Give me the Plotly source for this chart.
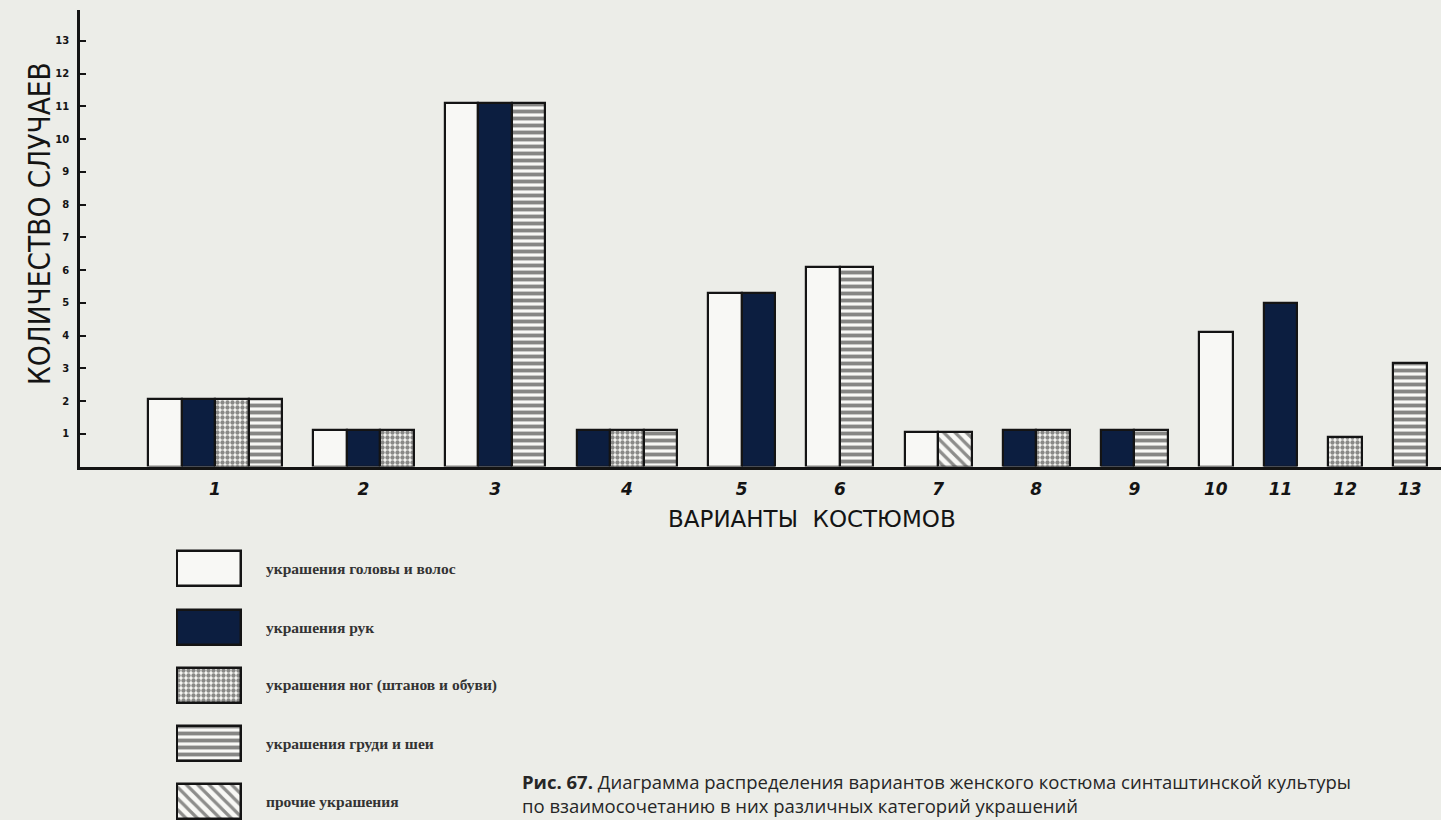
import plotly.graph_objects as go

# --- data -------------------------------------------------------------
variants = [str(i) for i in range(1, 14)]

categories = [
    "украшения головы и волос",
    "украшения рук",
    "украшения ног (штанов и обуви)",
    "украшения груди и шеи",
    "прочие украшения",
]

# number of cases per costume variant (None = category absent in variant)
head = [2.05, 1.1, 11.1, None, 5.3, 6.1, 1.05, None, None, 4.1, None, None, None]
hands = [2.05, 1.1, 11.1, 1.1, 5.3, None, None, 1.1, 1.1, None, 5.0, None, None]
legs = [2.05, 1.1, None, 1.1, None, None, None, 1.1, None, None, None, 0.9, None]
chest = [2.05, None, 11.1, 1.1, None, 6.1, None, None, 1.1, None, None, None, 3.15]
other = [None, None, None, None, None, None, 1.05, None, None, None, None, None, None]

y_ticks = list(range(1, 14))

caption = ("<b>Рис. 67.</b> Диаграмма распределения вариантов женского костюма синташтинской культуры"
           "<br>по взаимосочетанию в них различных категорий украшений")

# --- styles -----------------------------------------------------------
INK = "#141414"
NAVY = "#0c1e40"
PAPER = "#ecede8"
WHITE = "#f8f8f5"

styles = [
    dict(color=WHITE, pattern=dict(shape="")),
    dict(color=NAVY, pattern=dict(shape="")),
    dict(color=WHITE, pattern=dict(shape=".", fgcolor="#1a1a1a", bgcolor=WHITE,
                                   size=5, solidity=0.6, fillmode="overlay")),
    dict(color=WHITE, pattern=dict(shape="-", fgcolor=INK, bgcolor=WHITE,
                                   size=7, solidity=0.55, fillmode="overlay")),
    dict(color=WHITE, pattern=dict(shape="\\", fgcolor="#222222", bgcolor=WHITE,
                                   size=8, solidity=0.4, fillmode="overlay")),
]

W, H = 1441, 820
GAP = 0.93  # space between variant groups, in bar widths

# --- lay the bars out: present categories sit side by side in each group
series = [head, hands, legs, chest, other]
bar_x = [[] for _ in series]
bar_y = [[] for _ in series]
centers = []
cursor = 0.0
for g in range(len(variants)):
    start = cursor
    for k, s in enumerate(series):
        if s[g] is not None:
            bar_x[k].append(cursor + 0.5)
            bar_y[k].append(s[g])
            cursor += 1
    centers.append((start + cursor) / 2)
    cursor += GAP

fig = go.Figure()

for k, name in enumerate(categories):
    st = styles[k]
    fig.add_trace(go.Bar(
        x=bar_x[k], y=bar_y[k], width=1.0, name=name,
        marker=dict(color=st["color"], line=dict(color=INK, width=2.2),
                    pattern=st["pattern"]),
        showlegend=False, xaxis="x", yaxis="y", hoverinfo="skip",
    ))

# legend swatches drawn as horizontal bars on their own small axes
for k, name in enumerate(categories):
    st = styles[k]
    fig.add_trace(go.Bar(
        x=[1], y=[k], base=0, orientation="h", width=0.6,
        marker=dict(color=st["color"], line=dict(color=INK, width=2.5),
                    pattern=st["pattern"]),
        showlegend=False, xaxis="x2", yaxis="y2", hoverinfo="skip",
    ))

annotations = []
for k, name in enumerate(categories):
    annotations.append(dict(
        text=name, x=264 / W, y=k, xref="paper", yref="y2",
        xanchor="left", yanchor="middle", showarrow=False,
        font=dict(family="Liberation Serif", size=15.5, color="#333333", weight="bold"),
    ))

# axis titles, hand-lettered style
annotations.append(dict(
    text="КОЛИЧЕСТВО СЛУЧАЕВ", x=40 / W, y=(H - 224) / H, xref="paper", yref="paper",
    textangle=-90, showarrow=False, xanchor="center", yanchor="middle",
    font=dict(family="Liberation Sans Narrow, DejaVu Sans Condensed, DejaVu Sans",
              size=29.5, color=INK),
))
annotations.append(dict(
    text="ВАРИАНТЫ\u00a0\u00a0КОСТЮМОВ", x=666 / W, y=(H - 519) / H,
    xref="paper", yref="paper", showarrow=False, xanchor="left", yanchor="middle",
    font=dict(family="DejaVu Sans", size=23, color=INK),
))

# figure caption (two lines)
annotations.append(dict(
    text=caption, x=520 / W, y=0, xref="paper", yref="paper",
    showarrow=False, xanchor="left", yanchor="bottom", align="left",
    font=dict(family="Open Sans", size=18.5, color="#262626"),
))

fig.update_layout(
    width=W, height=H, autosize=False,
    margin=dict(l=0, r=0, t=0, b=0),
    paper_bgcolor=PAPER, plot_bgcolor=PAPER,
    barmode="overlay", bargap=0,
    annotations=annotations,
    xaxis=dict(
        domain=[80 / W, 1], range=[-2.03, 38.59], anchor="y",
        showline=True, linecolor=INK, linewidth=2.5,
        tickvals=centers, ticktext=variants, ticks="",
        ticklabelstandoff=5,
        tickfont=dict(family="DejaVu Sans", size=17, color=INK,
                      style="italic", weight="bold"),
        showgrid=False, zeroline=False, fixedrange=True,
    ),
    yaxis=dict(
        domain=[(H - 466.5) / H, (H - 10) / H], range=[0, 13.94], anchor="x",
        showline=True, linecolor=INK, linewidth=2.5,
        tickvals=y_ticks, ticks="inside", ticklen=6, tickwidth=2, tickcolor=INK,
        ticklabelstandoff=6,
        tickfont=dict(family="DejaVu Sans", size=10, color=INK, weight="bold"),
        showgrid=False, zeroline=False, fixedrange=True,
    ),
    xaxis2=dict(domain=[176 / W, 242 / W], range=[-0.02, 1.02], anchor="y2",
                visible=False, fixedrange=True),
    yaxis2=dict(domain=[0, (H - 548) / H], range=[4.31, -0.36], anchor="x2",
                visible=False, fixedrange=True),
)

fig.write_html("out.html")
